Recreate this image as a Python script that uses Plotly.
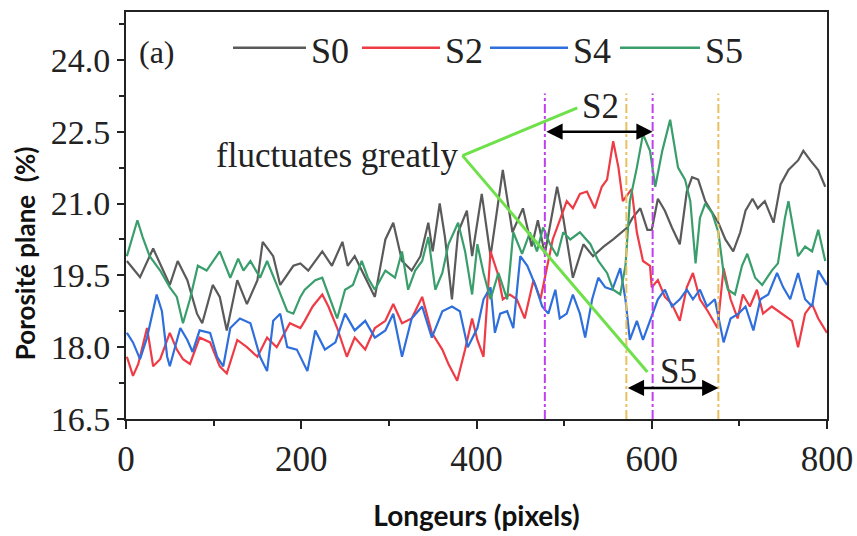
import plotly.graph_objects as go

# ---------------- data ----------------
s0_x = [1, 16, 31, 42, 50, 59, 70, 81, 87, 99, 107, 115, 127, 138, 150, 156, 168, 176, 191, 199,
        208, 224, 235, 247, 253, 261, 273, 284, 296, 305, 315, 326, 336, 345, 350, 358, 364, 372, 379, 389,
        395, 406, 416, 430, 441, 453, 463, 470, 478, 492, 499, 510, 522, 533, 545, 556, 572, 578, 587, 595,
        600, 607, 615, 623, 632, 640, 646, 653, 661, 669, 676, 684, 693, 701, 707, 715, 721, 729, 739, 747,
        756, 767, 773, 781, 790, 798]
s0_y = [19.8, 19.46, 20.06, 19.6, 19.3, 19.8, 19.4, 18.7, 18.5, 19.3, 19.05, 18.35, 19.4, 18.9, 19.4, 20.2, 19.9, 19.3, 19.7, 19.75,
        19.6, 20.0, 19.7, 20.2, 19.7, 19.9, 19.45, 19.05, 20.25, 20.6, 19.8, 19.6, 19.9, 20.6, 20.0, 21.0, 20.3, 19.0, 20.4, 20.85,
        19.9, 21.2, 19.9, 21.7, 20.4, 20.9, 20.1, 20.65, 19.95, 21.35, 20.7, 19.45, 20.15, 19.9, 20.1, 20.25, 20.5, 20.7, 20.9, 20.45,
        20.45, 21.1, 20.85, 20.5, 20.15, 21.25, 21.55, 21.5, 21.05, 20.8, 20.6, 20.25, 20.0, 20.4, 20.85, 21.1, 20.9, 21.05, 20.6, 21.4,
        21.7, 21.9, 22.1, 21.9, 21.7, 21.35]

s2_x = [1, 8, 14, 24, 31, 39, 50, 58, 65, 73, 84, 96, 107, 115, 127, 138, 150, 161, 172, 187,
        199, 204, 213, 224, 231, 241, 252, 261, 273, 284, 296, 305, 315, 326, 338, 349, 361, 368, 378, 387,
        395, 401, 408, 416, 424, 430, 438, 446, 455, 465, 473, 481, 487, 495, 503, 510, 518, 526, 535, 543,
        549, 556, 562, 567, 577, 583, 590, 598, 600, 607, 615, 623, 632, 640, 647, 655, 664, 675, 682, 690,
        698, 704, 712, 720, 727, 737, 749, 760, 767, 775, 783, 790, 800]
s2_y = [17.8, 17.4, 17.65, 18.4, 17.6, 17.75, 18.3, 17.95, 17.75, 17.65, 18.2, 18.1, 17.6, 17.45, 18.15, 18.0, 17.8, 18.2, 18.0, 18.5,
        18.4, 18.55, 18.85, 19.1, 18.85, 18.4, 17.8, 18.2, 17.95, 18.4, 18.55, 18.9, 18.5, 18.6, 19.05, 18.3, 17.95, 17.65, 17.3, 17.95,
        18.6, 18.15, 17.8, 20.0, 19.55, 19.0, 19.1, 19.0, 18.6, 19.4, 19.0, 19.7, 20.25, 20.65, 21.05, 20.9, 21.2, 21.25, 20.9, 21.35,
        21.5, 22.3, 21.75, 21.05, 21.3, 20.4, 19.8, 19.7, 19.25, 19.4, 19.05, 18.9, 18.55, 19.25, 19.55, 19.0, 18.75, 18.4, 19.65, 19.0,
        18.6, 19.1, 18.85, 19.2, 18.7, 18.85, 18.7, 18.55, 18.0, 18.7, 18.9, 18.6, 18.3]

s4_x = [1, 8, 16, 24, 35, 41, 47, 50, 62, 70, 76, 84, 96, 104, 111, 119, 130, 142, 153, 161,
        168, 176, 184, 195, 207, 216, 227, 239, 250, 261, 273, 284, 296, 305, 315, 326, 338, 349, 361, 372,
        381, 390, 401, 408, 416, 421, 427, 435, 442, 450, 458, 467, 475, 482, 490, 495, 503, 510, 518, 524,
        532, 539, 547, 555, 564, 570, 575, 583, 590, 598, 607, 615, 623, 632, 640, 647, 655, 663, 672, 682,
        690, 699, 707, 716, 724, 733, 743, 750, 758, 767, 775, 783, 790, 800]
s4_y = [18.3, 18.1, 17.75, 18.2, 19.1, 18.75, 17.8, 17.6, 18.4, 18.15, 17.9, 18.35, 18.3, 17.8, 17.6, 18.4, 18.6, 18.5, 17.8, 17.5,
        18.55, 18.7, 18.0, 17.95, 17.5, 18.35, 17.95, 18.1, 18.7, 18.35, 18.55, 18.2, 18.35, 18.7, 17.8, 18.6, 18.85, 18.2, 18.75, 18.85,
        18.75, 18.0, 18.4, 19.0, 19.25, 18.3, 18.7, 18.75, 18.4, 19.9, 19.7, 19.3, 18.85, 18.7, 19.2, 18.6, 18.7, 19.1, 18.7, 18.2,
        19.0, 19.45, 19.25, 19.2, 19.65, 19.0, 18.15, 18.55, 18.15, 18.55, 19.0, 19.2, 18.85, 19.0, 19.2, 19.0, 19.2, 18.85, 19.0, 18.1,
        18.6, 18.7, 18.85, 18.35, 19.0, 19.1, 19.55, 19.25, 19.0, 19.55, 19.0, 18.85, 19.6, 19.3]

s5_x = [1, 13, 19, 27, 39, 50, 58, 65, 73, 82, 92, 107, 119, 128, 134, 142, 153, 161, 172, 184,
        191, 199, 204, 216, 224, 231, 241, 250, 259, 269, 276, 284, 296, 307, 315, 322, 330, 338, 345, 353,
        361, 368, 379, 387, 395, 401, 408, 416, 425, 435, 442, 452, 461, 469, 476, 484, 492, 499, 507, 518,
        530, 539, 549, 556, 564, 570, 575, 583, 590, 598, 604, 612, 621, 630, 638, 644, 650, 655, 661, 669,
        676, 682, 687, 695, 703, 709, 718, 726, 737, 744, 752, 756, 761, 767, 775, 783, 790, 798]
s5_y = [19.9, 20.65, 20.3, 19.9, 19.6, 19.25, 19.05, 18.5, 19.0, 19.7, 19.6, 20.0, 19.45, 19.85, 19.6, 19.8, 19.45, 19.8, 19.3, 18.75,
        18.7, 19.05, 19.2, 19.4, 19.45, 19.1, 18.6, 19.2, 19.3, 19.8, 19.45, 19.2, 19.6, 19.45, 20.0, 19.2, 19.6, 19.8, 20.3, 19.2,
        19.55, 20.15, 20.6, 20.0, 19.1, 20.15, 19.55, 19.0, 19.55, 19.0, 20.4, 19.95, 20.4, 20.0, 20.5, 20.15, 19.9, 20.4, 20.25, 20.4,
        20.15, 19.8, 19.55, 19.2, 19.1, 19.7, 21.05, 21.75, 22.45, 22.1, 21.35, 22.1, 22.75, 21.75, 21.5, 21.05, 19.75, 20.7, 21.0, 20.8,
        20.4, 19.55, 19.2, 19.1, 19.7, 19.95, 19.45, 19.3, 19.6, 19.75, 20.7, 21.05, 20.5, 19.9, 20.1, 20.0, 20.45, 19.8]

series_names = ["S0", "S2", "S4", "S5"]
series_colors = ["#5a5a5a", "#ee3b45", "#2f6fdc", "#3a9e6c"]

x_ticks = [0, 200, 400, 600, 800]
y_ticks = [16.5, 18.0, 19.5, 21.0, 22.5, 24.0]

s2_window = [478, 601]   # magenta dash-dot lines
s5_window = [571, 676]   # orange dash-dot lines

SERIF = "Liberation Serif, Times New Roman, serif"
SANS = "Lato, Open Sans, sans-serif"

fig = go.Figure()
for name, xs, ys, col in zip(series_names, [s0_x, s2_x, s4_x, s5_x], [s0_y, s2_y, s4_y, s5_y], series_colors):
    fig.add_trace(go.Scatter(x=xs, y=ys, mode="lines", name=name,
                             line=dict(color=col, width=2.2), showlegend=False))

# vertical dash-dot window lines
for xv in s2_window:
    fig.add_shape(type="line", x0=xv, x1=xv, y0=16.5, y1=23.3, xref="x", yref="y",
                  line=dict(color="#c040f0", width=2, dash="dashdot"))
for xv in s5_window:
    fig.add_shape(type="line", x0=xv, x1=xv, y0=16.5, y1=23.3, xref="x", yref="y",
                  line=dict(color="#e8c060", width=2, dash="dashdot"))

# double-headed arrows
fig.add_annotation(x=s2_window[1], y=22.5, ax=s2_window[0], ay=22.5, xref="x", yref="y",
                   axref="x", ayref="y", text="", showarrow=True, arrowhead=2, arrowside="end+start",
                   arrowsize=1.3, arrowwidth=2.5, arrowcolor="black")
fig.add_annotation(x=s5_window[1], y=17.15, ax=s5_window[0], ay=17.15, xref="x", yref="y",
                   axref="x", ayref="y", text="", showarrow=True, arrowhead=2, arrowside="end+start",
                   arrowsize=1.3, arrowwidth=2.5, arrowcolor="black")

# green pointer lines
fig.add_shape(type="line", x0=384, y0=22.0, x1=515, y1=23.0, line=dict(color="#6ee04a", width=3))
fig.add_shape(type="line", x0=384, y0=22.0, x1=595, y1=17.48, line=dict(color="#6ee04a", width=3))

fig.add_annotation(x=241, y=22.0, text="fluctuates greatly", showarrow=False, xanchor="center", yanchor="middle",
                   font=dict(family=SERIF, size=35, color="#222"))
fig.add_annotation(x=541, y=23.02, text="S2", showarrow=False, xanchor="center", yanchor="middle",
                   font=dict(family=SERIF, size=35, color="#222"))
fig.add_annotation(x=630, y=17.5, text="S5", showarrow=False, xanchor="center", yanchor="middle",
                   font=dict(family=SERIF, size=35, color="#222"))
fig.add_annotation(x=0.044, y=0.902, xref="paper", yref="paper", text="(a)", showarrow=False,
                   xanchor="center", yanchor="middle",
                   font=dict(family=SERIF, size=32, color="#222"))

# legend drawn inside the frame
leg_line_x = [(233, 306), (362, 440), (490, 568), (620, 700)]
for name, col, (a, b) in zip(series_names, series_colors, leg_line_x):
    pa = (a - 126) / 701
    pb = (b - 126) / 701
    fig.add_shape(type="line", xref="paper", yref="paper", x0=pa, x1=pb, y0=0.912, y1=0.912,
                  line=dict(color=col, width=2.5))
    fig.add_annotation(xref="paper", yref="paper", x=pb + 0.004, y=0.905, xanchor="left", yanchor="middle",
                       text=name, showarrow=False, font=dict(family=SERIF, size=36, color="#222"))

fig.update_layout(
    width=857, height=536,
    margin=dict(l=126, r=30, t=12, b=117, autoexpand=False),
    paper_bgcolor="white", plot_bgcolor="white",
    showlegend=False,
)
fig.update_xaxes(range=[0, 800], tickvals=x_ticks, ticktext=[str(v) for v in x_ticks],
                 automargin=False,
                 showgrid=False, zeroline=False, showline=True, linecolor="#222", linewidth=2,
                 mirror=True, ticks="outside", ticklen=8, tickwidth=2, tickcolor="#222",
                 minor=dict(dtick=100, tick0=0, ticks="outside", ticklen=5, tickwidth=2, tickcolor="#222"),
                 tickfont=dict(family=SERIF, size=35, color="#222"),
                 title=dict(text="<b>Longeurs (pixels)</b>", font=dict(family=SANS, size=28, color="#111"),
                            standoff=28))
fig.update_yaxes(range=[16.5, 25.0], tickvals=y_ticks, ticktext=[f"{v:.1f}" for v in y_ticks],
                 automargin=False,
                 showgrid=False, zeroline=False, showline=True, linecolor="#222", linewidth=2,
                 mirror=True, ticks="outside", ticklen=7, tickwidth=2, tickcolor="#222",
                 minor=dict(dtick=0.75, tick0=16.5, ticks="outside", ticklen=5, tickwidth=2, tickcolor="#222"),
                 tickfont=dict(family=SERIF, size=34, color="#222"),
                 title=dict(text="<b>Porosité plane\u00a0\u00a0(%)" + "\u00a0" * 12 + "</b>",
                            font=dict(family=SANS, size=26, color="#111"),
                            standoff=8))

fig.write_html("out.html")
